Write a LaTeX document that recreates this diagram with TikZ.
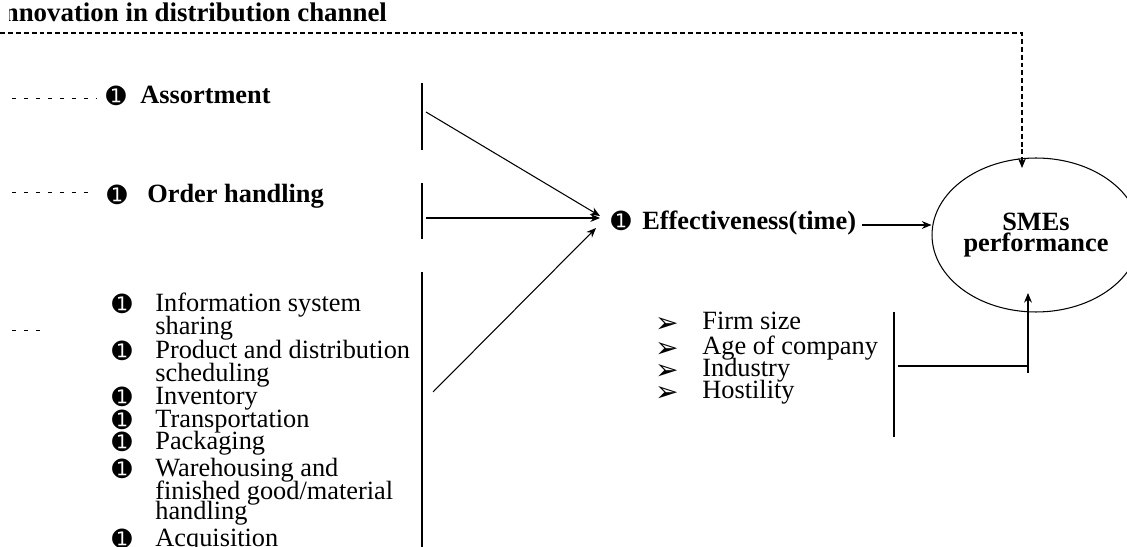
\documentclass[tikz,border=0pt]{standalone}
\usepackage{fontspec}
\setmainfont{Liberation Serif}
\newfontfamily\dingfont{DejaVu Sans}
\usetikzlibrary{arrows.meta,shapes.geometric}
\tikzset {>={Stealth[length=5.5pt,width=4.5pt]}}
\newcommand\basefont{\fontsize{15}{17}\selectfont}
\newcommand\numbul{{\dingfont\fontsize{13.5}{13.5}\selectfont ➊}}
\newcommand\arrbul{{\dingfont\fontsize{16}{16}\selectfont ➢}}
\tikzset{
  lbl/.style={inner sep=0pt,anchor=west,text height=0.62em,text depth=0.18em,font=\basefont},
  bld/.style={lbl,font=\basefont\bfseries},
  bul/.style={inner sep=0pt,text height=0.7em,text depth=0pt},
  bar/.style={line width=0.6pt},
  conn/.style={line width=0.6pt,->},
  fine dash/.style={line width=0.6pt,dash pattern=on 2.8pt off 1.7pt},
  sparse dash/.style={line width=0.5pt,dash pattern=on 2.2pt off 4.6pt}
}

\begin{document}
\begin{tikzpicture}[x=0.02cm,y=-0.02cm]
\useasboundingbox (0,0) rectangle (1127,547);
\clip (0,0) rectangle (1127,547);

\begin{scope}
\clip (9,0) rectangle (500,30);
\node[bld,anchor=base west,font=\fontsize{15.3}{17}\selectfont\bfseries] (title) at (-7,22) {Innovation in distribution channel};
\end{scope}
\coordinate (D0) at (0,33);
\coordinate (Dtop) at (1022,168);
\draw[fine dash,->] (D0) -| (Dtop);

\draw[sparse dash] (12,98) -- (97,98);
\draw[sparse dash] (12,192) -- (92,192);
\draw[sparse dash] (12,330) -- (42,330);

\node[bul] (bA) at (116,98) {\numbul};
\node[bld] (assort) at (140,100) {Assortment};
\node[bul] (bO) at (117,197) {\numbul};
\node[bld] (order) at (147,199) {Order handling};

\foreach \y/\t [count=\i] in {308/Information system,331/sharing,355/Product and distribution,378/scheduling,401/Inventory,424/Transportation,446/Packaging,473/Warehousing and,496/{finished good/material},516/handling,543/Acquisition}
  \node[lbl] (item\i) at (155,\y) {\t};
\foreach \y [count=\i] in {306,353,399,422,444,471,541}
  \node[bul] (ib\i) at (122,\y) {\numbul};

\draw[bar] (422,83) -- (422,150);
\draw[bar] (422,183) -- (422,239);
\draw[bar] (422,272) -- (422,547);

\node[bul] (bE) at (621,223) {\numbul};
\node[bld] (eff) at (642,226) {Effectiveness(time)};

\coordinate (A1) at (426,112);
\coordinate (A2) at (426,218);
\coordinate (A3) at (433,392);
\coordinate (T1) at (600,216);
\coordinate (T2) at (600,218);
\coordinate (T3) at (596,228);
\draw[conn] (A1) -- (T1);
\draw[conn] (A2) -- (T2);
\draw[conn] (A3) -- (T3);

\node[draw,ellipse,line width=0.6pt,minimum width=4.16cm,minimum height=3.08cm,inner sep=0pt,
  align=center,font=\fontsize{15}{12}\selectfont\bfseries] (sme) at (1036,235) {SMEs\\performance};
\coordinate (Eout) at (862,225);
\draw[conn] (Eout) -- (Eout -| sme.west);

\foreach \y/\t [count=\i] in {326/Firm size,351/Age of company,373/Industry,395/Hostility}{
  \node[bul] (cb\i) at (667,\y) {\arrbul};
  \node[lbl] (ctl\i) at (702,\y) {\t};}

\draw[bar] (894,312) -- (894,437);
\coordinate (C0) at (898,366);
\coordinate (C1) at (1028,373);
\coordinate (Bin) at (1028,293);
\draw[bar] (C0) -- (C0 -| C1);
\draw[conn] (C1) -- (Bin);
\end{tikzpicture}
\end{document}
